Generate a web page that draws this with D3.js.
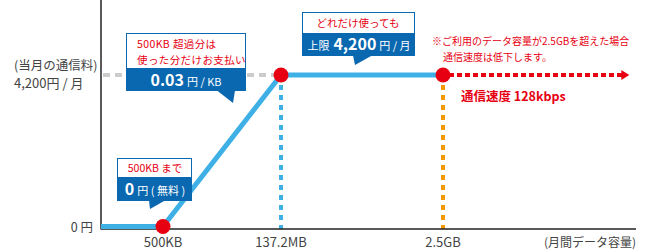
<!DOCTYPE html>
<html><head><meta charset="utf-8">
<script src="https://cdn.jsdelivr.net/npm/d3@7"></script>
<style>
html,body{margin:0;padding:0;background:#fff;}
svg{display:block;font-family:"Noto Sans CJK JP","Noto Sans",sans-serif;}
</style></head>
<body>
<svg id="c" width="656" height="250"></svg>
<script>
// ---- data ----
const usageMB = [0, 0.5, 137.2, 2560];          // monthly data usage (MB)
const feeYen  = [0, 0, 4200, 4200];             // monthly fee (yen)
const xTickValues = [0.5, 137.2, 2560];
const xTickLabels = ["500KB", "137.2MB", "2.5GB"];
const yTickValues = [0, 4200];
const throttleEndMB = 3950;
const domainEndMB = 4000;

const BLUE = "#3fb0e6", DARK = "#0a68b0", RED = "#e60012", ORANGE = "#f39800", GRAY = "#cccccc", TXT = "#444";

const svg = d3.select("#c");
const x = d3.scaleLinear().domain([0, 0.5, 137.2, 2560, domainEndMB]).range([101, 163, 281, 443, 636]);
const y = d3.scaleLinear().domain([0, 4200]).range([226.5, 75]);
const axisY = 229;

// gray dashed guide at 4200
svg.append("line").attr("x1", x(0) + 2).attr("x2", x(137.2)).attr("y1", y(4200)).attr("y2", y(4200))
  .attr("stroke", GRAY).attr("stroke-width", 4).attr("stroke-dasharray", "7,5");

// vertical guides
svg.append("line").attr("x1", x(137.2)).attr("x2", x(137.2)).attr("y1", y(4200)).attr("y2", axisY)
  .attr("stroke", BLUE).attr("stroke-width", 4).attr("stroke-dasharray", "5,5");
svg.append("line").attr("x1", x(2560)).attr("x2", x(2560)).attr("y1", y(4200)).attr("y2", axisY)
  .attr("stroke", ORANGE).attr("stroke-width", 4).attr("stroke-dasharray", "5,5");

// axes
svg.append("line").attr("x1", 101).attr("x2", 101).attr("y1", 0).attr("y2", axisY + 0.5).attr("stroke", "#222").attr("stroke-width", 1.5);
svg.append("line").attr("x1", 101).attr("x2", 636).attr("y1", axisY).attr("y2", axisY).attr("stroke", "#222").attr("stroke-width", 1.5);

// fee line
const pts = usageMB.map((m, i) => [x(m), y(feeYen[i])]);
svg.append("path").attr("d", d3.line()(pts)).attr("fill", "none").attr("stroke", BLUE).attr("stroke-width", 5).attr("stroke-linejoin", "miter");

// throttled arrow
svg.append("line").attr("x1", x(2560) + 6).attr("x2", x(throttleEndMB) - 7).attr("y1", y(4200)).attr("y2", y(4200))
  .attr("stroke", RED).attr("stroke-width", 4).attr("stroke-dasharray", "5,3");
const ax = x(throttleEndMB);
svg.append("path").attr("d", `M${ax - 8},${y(4200) - 5}L${ax},${y(4200)}L${ax - 8},${y(4200) + 5}Z`).attr("fill", RED);

// points
[0.5, 137.2, 2560].forEach(m => {
  const i = usageMB.indexOf(m);
  svg.append("circle").attr("cx", x(m)).attr("cy", y(feeYen[i])).attr("r", 7.5).attr("fill", RED);
});

// x tick labels
svg.selectAll(".xt").data(xTickValues).join("text").attr("class", "xt")
  .attr("x", d => x(d)).attr("y", 247).attr("text-anchor", "middle")
  .attr("font-size", 13).attr("fill", TXT).text((d, i) => xTickLabels[i]);
svg.append("text").attr("x", 636).attr("y", 247).attr("text-anchor", "end").attr("font-size", 12).attr("fill", TXT).text("(月間データ容量)");

// y labels
svg.append("text").attr("x", 93).attr("y", 232).attr("text-anchor", "end").attr("font-size", 12.5).attr("fill", TXT).text(yTickValues[0] + " 円");
svg.append("text").attr("x", 14).attr("y", 70).attr("font-size", 12.5).attr("fill", TXT).text("(当月の通信料)");
svg.append("text").attr("x", 14).attr("y", 88).attr("font-size", 13).attr("fill", TXT).text(d3.format(",")(yTickValues[1]) + "円 / 月");

// callouts
function callout(bx, by, w, h1, h2, ptr) {
  const g = svg.append("g");
  g.append("rect").attr("x", bx + 0.5).attr("y", by + 0.5).attr("width", w - 1).attr("height", h1).attr("fill", "#fff").attr("stroke", DARK).attr("stroke-width", 1);
  g.append("rect").attr("x", bx).attr("y", by + h1).attr("width", w).attr("height", h2).attr("fill", DARK);
  g.append("path").attr("d", `M${ptr[0]},${by + h1 + h2 - 0.5}L${ptr[1]},${by + h1 + h2 - 0.5}L${ptr[2]},${ptr[3]}Z`).attr("fill", DARK);
  return g;
}

// callout 1
const c1 = callout(126, 33, 120, 35, 23, [217, 235, 233, 103]);
c1.append("text").attr("x", 137).attr("y", 48).attr("font-size", 10.5).attr("letter-spacing", 0.4).attr("fill", RED).text("500KB 超過分は");
c1.append("text").attr("x", 137).attr("y", 63.5).attr("font-size", 10.5).attr("letter-spacing", 0.4).attr("fill", RED).text("使った分だけお支払い");
const t1 = c1.append("text").attr("x", 186).attr("y", 86).attr("text-anchor", "middle").attr("fill", "#fff");
t1.append("tspan").attr("font-size", 16).attr("font-weight", "bold").text("0.03");
t1.append("tspan").attr("font-size", 11).attr("dx", 3).text("円 / KB");

// callout 2
const c2 = callout(302, 12, 113, 21, 23, [353, 372, 355, 65]);
c2.append("text").attr("x", 358).attr("y", 27).attr("text-anchor", "middle").attr("font-size", 10.5).attr("fill", RED).text("どれだけ使っても");
const t2 = c2.append("text").attr("x", 359).attr("y", 50).attr("text-anchor", "middle").attr("fill", "#fff");
t2.append("tspan").attr("font-size", 11).text("上限");
t2.append("tspan").attr("font-size", 16).attr("font-weight", "bold").attr("dx", 4).text("4,200");
t2.append("tspan").attr("font-size", 11).attr("dx", 3).text("円 / 月");

// callout 3
const c3 = callout(117, 158, 75, 19, 24, [149, 165, 150, 209]);
c3.append("text").attr("x", 155).attr("y", 172).attr("text-anchor", "middle").attr("font-size", 10.5).attr("fill", RED).text("500KB まで");
const t3 = c3.append("text").attr("x", 155).attr("y", 195).attr("text-anchor", "middle").attr("fill", "#fff");
t3.append("tspan").attr("font-size", 16).attr("font-weight", "bold").text("0");
t3.append("tspan").attr("font-size", 11).attr("dx", 3).text("円 ( 無料 )");

// notes
svg.append("text").attr("x", 432).attr("y", 45).attr("font-size", 10).attr("fill", RED).text("※ご利用のデータ容量が2.5GBを超えた場合");
svg.append("text").attr("x", 443).attr("y", 61).attr("font-size", 10).attr("fill", RED).text("通信速度は低下します。");
svg.append("text").attr("x", 461).attr("y", 101).attr("font-size", 12.5).attr("font-weight", "bold").attr("fill", RED).text("通信速度 128kbps");
</script>
</body></html>
